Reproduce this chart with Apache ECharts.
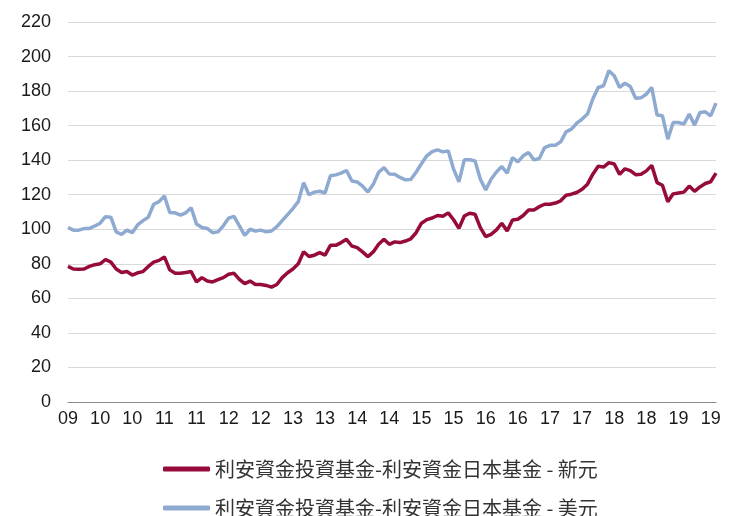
<!DOCTYPE html>
<html>
<head>
<meta charset="utf-8">
<script src="https://cdn.jsdelivr.net/npm/echarts@6/dist/echarts.min.js"></script>
<style>
html,body{margin:0;padding:0;background:#fff;}
#chart{width:740px;height:516px;}
</style>
</head>
<body>
<div id="chart"></div>
<script>
// Tick labels shown every 6 months (Jul 2009 .. Jul 2019)
const tickLabels = ['09','10','10','11','11','12','12','13','13','14','14','15','15','16','16','17','17','18','18','19','19'];
const seriesNames = ['利安資金投資基金-利安資金日本基金 - 新元', '利安資金投資基金-利安資金日本基金 - 美元'];

const sgdValues = [
  78.5, 77, 76.8, 77, 78.5, 79.5, 80, 82.5, 81, 77,
  75, 75.5, 73.5, 74.8, 75.5, 78.5, 81, 82, 84, 76.5,
  74.5, 74.5, 75, 75.5, 69.5, 72, 70, 69.5, 70.8, 72,
  74, 74.5, 71, 68.5, 70, 68, 68, 67.5, 66.5, 68,
  72, 74.8, 77, 80, 87, 84.2, 85, 86.5, 85, 90.7,
  90.7, 92.3, 94.2, 90.3, 89.4, 86.9, 84.2, 86.9, 91.3, 94.2,
  91.3, 92.7, 92.3, 93.2, 94.5, 98, 103.5, 105.6, 106.5, 108,
  107.5, 109.5, 105.5, 100.5, 107.7, 109.3, 108.7, 101, 95.7, 97.1,
  99.6, 103.5, 99, 105.4, 105.8, 108, 111.2, 111.2, 113.1, 114.5,
  114.5, 115.2, 116.5, 119.7, 120.3, 121.3, 123.2, 126.1, 131.9, 136.5,
  136, 138.6, 137.8, 131.8, 135, 134, 131.6, 131.8, 133.8, 137,
  127, 125.5, 116, 120.5, 121, 121.5, 125, 122, 124.5, 126.5, 127.5, 132.5
];

const usdValues = [
  101, 99.5, 99.5, 100.4, 100.5, 101.9, 103.5, 107.3, 107, 98.5,
  97, 99.5, 98, 102.5, 105, 107, 114.5, 116, 119.3, 109.7,
  109.5, 108.2, 109.5, 112.5, 103, 101, 100.5, 98, 98.5, 102,
  106.5, 107.5, 102, 96.5, 100, 99, 99.5, 98.5, 99, 101.5,
  105, 108.5, 112, 116, 127, 120, 121.5, 122, 121, 131,
  131.5, 132.5, 134, 128, 127.4, 125, 121.6, 126, 133, 135.7,
  132, 131.9, 130, 128.6, 128.8, 133, 138, 142.5, 145, 146,
  144.8, 145.4, 134.8, 127.4, 140.2, 140.2, 139.6, 129, 122.8, 129,
  133.2, 136.3, 132.5, 141.5, 139, 142.5, 144.4, 140.2, 141, 147.3,
  148.6, 148.6, 150.6, 156.4, 158, 161.4, 163.8, 166.7, 175.4, 182.1,
  183.1, 191.8, 188.9, 182.1, 184.6, 182.7, 175.9, 176.1, 178.3, 182.1,
  166.1, 165.7, 152.2, 161.8, 161.8, 160.9, 166.7, 160.3, 167.6, 168, 165.7, 173
];

// Monthly categories starting 2009-07
const categories = sgdValues.map((_, i) => {
  const m = 6 + i;
  const y = 2009 + Math.floor(m / 12);
  const mm = (m % 12) + 1;
  return y + '/' + (mm < 10 ? '0' + mm : mm);
});

const legendBase = {
  left: 158,
  itemWidth: 47,
  itemHeight: 5,
  itemTextGap: 4,
  icon: 'roundRect',
  textStyle: {fontFamily: '"Noto Sans CJK TC", sans-serif', fontSize: 20, lineHeight: 22, color: '#333'}
};

const chart = echarts.init(document.getElementById('chart'), null, {renderer: 'canvas'});
chart.setOption({
  animation: false,
  backgroundColor: '#ffffff',
  grid: {left: 68, right: 24, top: 22, bottom: 114, containLabel: false},
  legend: [
    Object.assign({}, legendBase, {top: 453, data: [seriesNames[0]]}),
    Object.assign({}, legendBase, {top: 492, data: [seriesNames[1]]})
  ],
  xAxis: {
    type: 'category',
    data: categories,
    boundaryGap: false,
    axisLine: {lineStyle: {color: '#8c8c8c', width: 1}},
    axisTick: {show: false},
    axisLabel: {
      interval: (i) => i % 6 === 0,
      formatter: (v, i) => tickLabels[Math.floor(i / 6)],
      fontFamily: '"Liberation Sans", Arial, sans-serif',
      fontSize: 18,
      color: '#1a1a1a',
      margin: 8
    },
    splitLine: {show: false}
  },
  yAxis: {
    type: 'value',
    min: 0,
    max: 220,
    interval: 20,
    axisLine: {show: false},
    axisTick: {show: false},
    axisLabel: {
      fontFamily: '"Liberation Sans", Arial, sans-serif',
      fontSize: 18,
      color: '#1a1a1a',
      margin: 17
    },
    splitLine: {lineStyle: {color: '#d9d9d9', width: 1}}
  },
  series: [
    {
      name: seriesNames[0],
      type: 'line',
      data: sgdValues,
      symbol: 'none',
      lineStyle: {color: '#960A3C', width: 3.5},
      itemStyle: {color: '#960A3C'},
      z: 3
    },
    {
      name: seriesNames[1],
      type: 'line',
      data: usdValues,
      symbol: 'none',
      lineStyle: {color: '#8EAAD1', width: 3.5},
      itemStyle: {color: '#8EAAD1'},
      z: 2
    }
  ]
});
</script>
</body>
</html>
